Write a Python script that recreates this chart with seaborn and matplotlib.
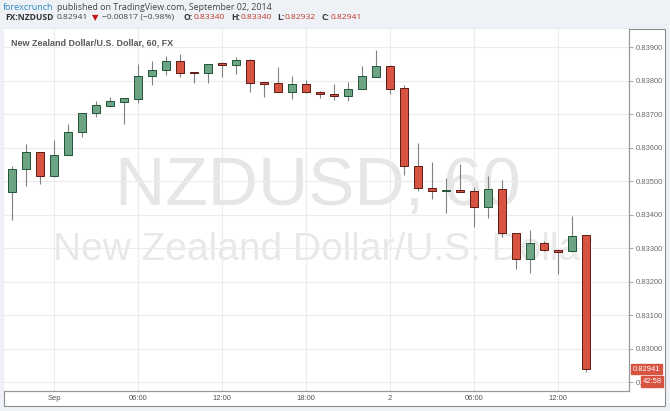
import pandas as pd
import matplotlib
matplotlib.use("Agg")
import matplotlib.pyplot as plt
import seaborn as sns
from matplotlib.patches import Rectangle

# hourly NZDUSD candles, 31 Aug 21:00 -> 2 Sep 14:00
times = pd.date_range("2014-08-31 21:00", periods=42, freq="h")
opens = [0.83467, 0.83535, 0.83587, 0.83515, 0.83578, 0.83647, 0.83703, 0.83724,
         0.83737, 0.83745, 0.83814, 0.83831, 0.83858, 0.83826, 0.83822, 0.83852,
         0.83846, 0.83861, 0.83796, 0.83792, 0.83767, 0.83790, 0.83766, 0.83760,
         0.83754, 0.83775, 0.83812, 0.83845, 0.83778, 0.83545, 0.83480, 0.83472,
         0.83473, 0.83470, 0.83422, 0.83476, 0.83345, 0.83267, 0.83315, 0.83294,
         0.83291, 0.83340]
highs = [0.83546, 0.83610, 0.83588, 0.83623, 0.83671, 0.83704, 0.83740, 0.83752,
         0.83748, 0.83850, 0.83859, 0.83872, 0.83879, 0.83827, 0.83851, 0.83856,
         0.83870, 0.83864, 0.83797, 0.83840, 0.83814, 0.83802, 0.83770, 0.83790,
         0.83796, 0.83845, 0.83892, 0.83847, 0.83788, 0.83613, 0.83557, 0.83509,
         0.83552, 0.83484, 0.83516, 0.83504, 0.83346, 0.83355, 0.83321, 0.83298,
         0.83396, 0.83340]
lows = [0.83385, 0.83486, 0.83491, 0.83512, 0.83577, 0.83633, 0.83690, 0.83723,
        0.83670, 0.83733, 0.83788, 0.83818, 0.83810, 0.83793, 0.83793, 0.83812,
        0.83820, 0.83766, 0.83750, 0.83765, 0.83746, 0.83763, 0.83747, 0.83743,
        0.83740, 0.83774, 0.83811, 0.83761, 0.83519, 0.83472, 0.83446, 0.83405,
        0.83468, 0.83362, 0.83390, 0.83333, 0.83238, 0.83225, 0.83293, 0.83223,
        0.83290, 0.82932]
closes = [0.83536, 0.83587, 0.83516, 0.83579, 0.83648, 0.83703, 0.83726, 0.83739,
          0.83747, 0.83815, 0.83831, 0.83858, 0.83824, 0.83823, 0.83850, 0.83846,
          0.83861, 0.83794, 0.83791, 0.83766, 0.83790, 0.83765, 0.83759, 0.83755,
          0.83775, 0.83814, 0.83845, 0.83776, 0.83544, 0.83481, 0.83472, 0.83473,
          0.83469, 0.83422, 0.83476, 0.83345, 0.83267, 0.83315, 0.83294, 0.83290,
          0.83336, 0.82941]
price_ticks = [0.829, 0.830, 0.831, 0.832, 0.833, 0.834, 0.835, 0.836, 0.837, 0.838, 0.839]

df = pd.DataFrame({"time": times, "open": opens, "high": highs, "low": lows, "close": closes})
df["pos"] = range(len(df))
df["up"] = df["close"] >= df["open"]
df["bottom"] = df[["open", "close"]].min(axis=1)
df["height"] = (df["close"] - df["open"]).abs().clip(lower=0.00002)

sns.set_style("white")
plt.rcParams["font.family"] = ["Liberation Sans", "DejaVu Sans"]

W, H = 670, 411
fig = plt.figure(figsize=(W / 100, H / 100), dpi=100)
fig.patch.set_facecolor("#eef1f5")

def fx(px):
    return px / W

def fy(py):
    return 1 - py / H

# white chart box with border
fig.patches.append(Rectangle((fx(4), fy(406)), fx(661), 377 / H, transform=fig.transFigure,
                             facecolor="white", edgecolor="#8c8c8c", lw=0.8, zorder=0))

ax = fig.add_axes([fx(4), fy(391), fx(625), 362 / H])
ax.set_facecolor("white")
ax.set_zorder(1)

# watermark
ax.text(0.502, 0.563, "NZDUSD, 60", transform=ax.transAxes, fontsize=50, color="#e6e6e6",
        ha="center", va="center", zorder=0)
ax.text(0.51, 0.39, "New Zealand Dollar/U.S. Dollar", transform=ax.transAxes, fontsize=28,
        color="#e8e8e8", ha="center", va="center", zorder=0)

# wicks
ax.vlines(df["pos"], df["low"], df["high"], color="#808080", lw=0.8, zorder=2)

# bodies
up = df[df["up"]]
dn = df[~df["up"]]
ax.bar(up["pos"], up["height"], bottom=up["bottom"], width=0.6, color="#6ba583",
       edgecolor="#225437", lw=0.7, zorder=3)
ax.bar(dn["pos"], dn["height"], bottom=dn["bottom"], width=0.6, color="#d75442",
       edgecolor="#5b1a13", lw=0.7, zorder=3)

ax.set_xlim(-0.57, 44.07)
ax.set_ylim(0.82874, 0.83954)

# time ticks every 6 hours
tick_pos = [p for p, t in zip(df["pos"], df["time"]) if t.hour % 6 == 0]
tick_lab = []
for p in tick_pos:
    t = df["time"][p]
    if t.hour == 0:
        tick_lab.append("Sep" if t.day == 1 else str(t.day))
    else:
        tick_lab.append(t.strftime("%H:%M"))
ax.set_xticks(tick_pos)
ax.set_xticklabels(tick_lab, fontsize=5.5, color="#555555")
ax.set_yticks(price_ticks)
ax.set_yticklabels([f"{v:.5f}" for v in price_ticks], fontsize=5.5, color="#6b6b6b")
ax.yaxis.tick_right()
ax.tick_params(axis="y", length=3, width=0.6, color="#999999", pad=1.5)
ax.tick_params(axis="x", length=0, pad=3)
ax.grid(True, color="#ececec", lw=0.8)
ax.set_axisbelow(True)
for s in ["left", "top"]:
    ax.spines[s].set_visible(False)
for s in ["right", "bottom"]:
    ax.spines[s].set_color("#9a9a9a")
    ax.spines[s].set_linewidth(0.9)

ax.text(0.011, 0.962, "New Zealand Dollar/U.S. Dollar, 60, FX", transform=ax.transAxes,
        fontsize=6.5, fontweight="bold", color="#5a5a5a", va="center", ha="left", zorder=4)

# last price / countdown labels
red = "#d75442"
fig.text(fx(646.5), fy(369), "0.82941", fontsize=5.5, color="white", ha="center", va="center",
         bbox=dict(boxstyle="square,pad=0.25", facecolor=red, edgecolor=red), zorder=5)
fig.text(fx(652), fy(381.5), "42:58", fontsize=5.5, color="white", ha="center", va="center",
         bbox=dict(boxstyle="square,pad=0.2", facecolor=red, edgecolor=red), zorder=5)

# header
hf = ["Open Sans", "DejaVu Sans"]
fig.text(fx(3), fy(7), "forexcrunch", fontsize=6.5, color="#2e8ac5", va="center", family=hf)
fig.text(fx(57), fy(7), "published on TradingView.com, September 02, 2014", fontsize=6.4,
         color="#444444", va="center", family=hf)
y2 = fy(17.5)
fs2 = 6.1
fig.text(fx(5.5), y2, "FX:NZDUSD", fontsize=fs2, color="#333333", fontweight="bold", va="center", family=hf)
fig.text(fx(57), y2, "0.82941", fontsize=fs2, color="#444444", va="center", family=hf)
fig.text(fx(91.5), y2, "\u25bc", fontsize=6, color="#c0151b", va="center", family="DejaVu Sans")
fig.text(fx(102), y2, "\u22120.00817 (\u22120.98%)", fontsize=fs2, color="#444444", va="center", family=hf)
for lab, lx, val, vx in [("O:", 184, "0.83340", 194), ("H:", 231, "0.83340", 240.5),
                         ("L:", 277.5, "0.82932", 284.5), ("C:", 321, "0.82941", 330.5)]:
    fig.text(fx(lx), y2, lab, fontsize=fs2, color="#333333", fontweight="bold", va="center", family=hf)
    fig.text(fx(vx), y2, val, fontsize=fs2, color="#c0392b", va="center", family=hf)

fig.savefig("out.png", dpi=100, facecolor=fig.get_facecolor())
